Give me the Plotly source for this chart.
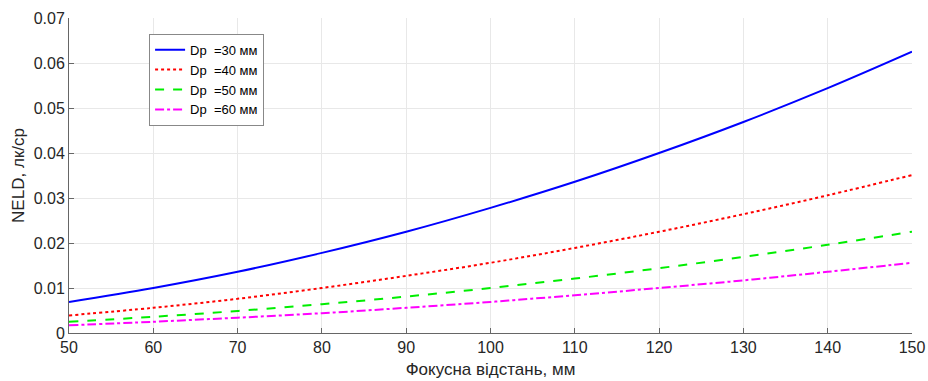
import plotly.graph_objects as go

focal = [50, 60, 70, 80, 90, 100, 110, 120, 130, 140, 150]
neld_30 = [0.0069, 0.0100, 0.0136, 0.0178, 0.0225, 0.0278, 0.0336, 0.0400, 0.0469, 0.0544, 0.0625]
neld_40 = [0.0039, 0.0056, 0.0076, 0.0100, 0.0127, 0.0156, 0.0189, 0.0225, 0.0264, 0.0306, 0.0351]
neld_50 = [0.0025, 0.0036, 0.0049, 0.0064, 0.0081, 0.0100, 0.0121, 0.0144, 0.0169, 0.0196, 0.0225]
neld_60 = [0.0017, 0.0025, 0.0034, 0.0044, 0.0056, 0.0069, 0.0084, 0.0100, 0.0117, 0.0136, 0.0156]
names = ["Dp  =30 мм", "Dp  =40 мм", "Dp  =50 мм", "Dp  =60 мм"]
colors = ["#0000ff", "#ff0000", "#00ee00", "#ff00ff"]
dashes = ["solid", "dot", "dash", "dashdot"]

fig = go.Figure()
for ys, n, c, d in zip([neld_30, neld_40, neld_50, neld_60], names, colors, dashes):
    fig.add_trace(go.Scatter(x=focal, y=ys, mode="lines", name=n,
                             line=dict(color=c, dash=d, width=2, shape="spline")))

font = "Liberation Sans, Arial, sans-serif"
fig.update_layout(
    width=928, height=381,
    margin=dict(l=69, r=16, t=18, b=48, autoexpand=False),
    paper_bgcolor="white", plot_bgcolor="white",
    font=dict(family=font, size=16, color="#262626"),
    showlegend=True,
    legend=dict(x=0.095, y=0.95, xanchor="left", yanchor="top",
                bgcolor="white", bordercolor="#888888", borderwidth=1,
                font=dict(size=13, color="#000000"), tracegroupgap=0,
                itemwidth=30),
    xaxis=dict(range=[50, 150], tickvals=focal, ticks="inside", ticklen=5,
               tickcolor="#666666", showline=True, linecolor="#666666", linewidth=1,
               showgrid=True, gridcolor="#e8e8e8", zeroline=False, automargin=False,
               title=dict(text="Фокусна відстань, мм", font=dict(size=17), standoff=7),
               tickfont=dict(size=16)),
    yaxis=dict(range=[0, 0.07], dtick=0.01, ticks="inside", ticklen=5,
               tickcolor="#666666", showline=True, linecolor="#666666", linewidth=1,
               showgrid=True, gridcolor="#e8e8e8", zeroline=False, automargin=False,
               tickformat="~g",
               title=dict(text="NELD, лк/ср", font=dict(size=17), standoff=4),
               tickfont=dict(size=16)),
)
fig.write_html("out.html", config={"displayModeBar": False},
               post_script="document.body.style.margin='0px';document.body.style.overflow='hidden';")
